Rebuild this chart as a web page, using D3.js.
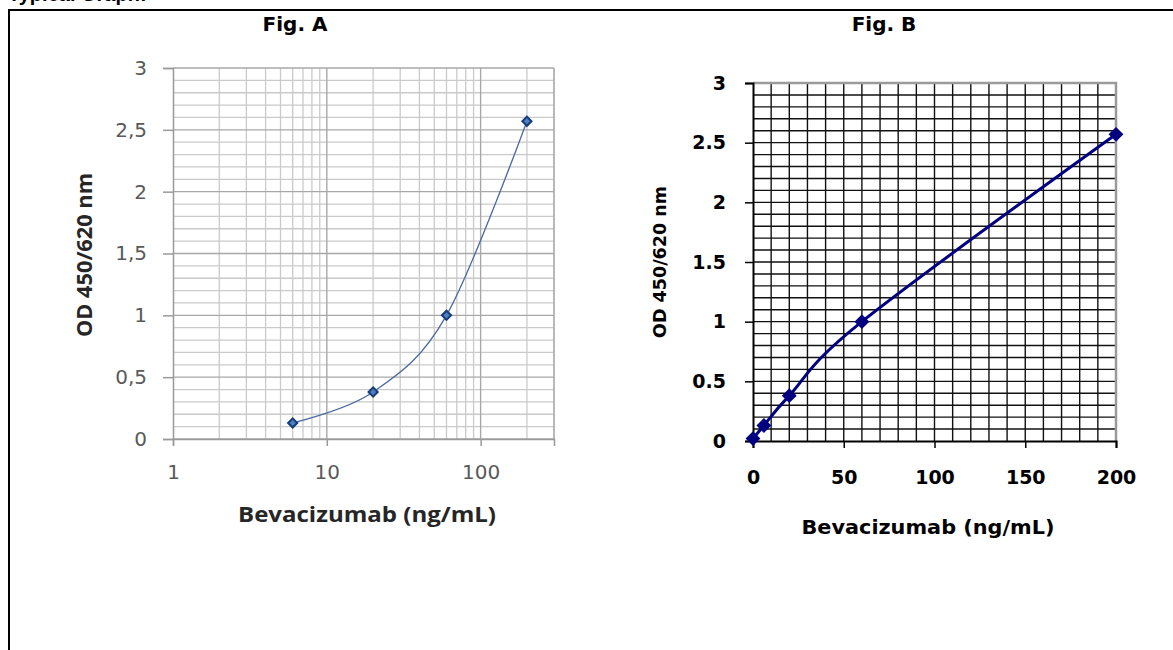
<!DOCTYPE html>
<html>
<head>
<meta charset="utf-8">
<script src="https://cdn.jsdelivr.net/npm/d3@7"></script>
<style>
  body { margin: 0; background: #fff; }
  svg { display: block; }
</style>
</head>
<body>
<script>
// data
var concA = [6, 20, 60, 200],
    odA = [0.13, 0.38, 1.0, 2.57];
var concB = [0, 6, 20, 60, 200],
    odB = [0.02, 0.13, 0.38, 1.0, 2.57];
var yTicks = [0, 0.5, 1, 1.5, 2, 2.5, 3],
    xTicksA = [1, 10, 100],
    xTicksB = [0, 50, 100, 150, 200];

var W = 1173, H = 650;

var svg = d3.select("body").append("svg")
    .attr("width", W)
    .attr("height", H);

// page frame + heading that is cut off at the top
svg.append("text")
    .attr("x", 8).attr("y", 1)
    .style("font", "bold 20px 'Liberation Sans', Arial, sans-serif")
    .text("Typical Graph:");
svg.append("path")
    .attr("d", "M9,660 V10 H1180")
    .attr("fill", "none").attr("stroke", "#000").attr("stroke-width", 2);

// rotated square marker
var diamond = function(size){ return d3.symbol().type(d3.symbolSquare).size(size)(); };

// ---------- Fig. A (log x) ----------
var xA = d3.scaleLog().domain([1, 300]).range([173, 554]),
    yA = d3.scaleLinear().domain([0, 3]).range([439, 68]);

var gA = svg.append("g");

var minorX = [];
[1, 10, 100].forEach(function(dec){
  for (var k = 2; k <= 9; k++) { if (k*dec <= 300) minorX.push(k*dec); }
});
var minorY = d3.range(0, 31).map(function(i){ return i/10; })
    .filter(function(v){ return Math.round(v*10) % 5 != 0; });

gA.selectAll(".vmin").data(minorX).enter().append("line")
    .attr("x1", xA).attr("x2", xA)
    .attr("y1", yA(0)).attr("y2", yA(3))
    .attr("stroke", "#cacaca").attr("stroke-width", 1.3);
gA.selectAll(".hmin").data(minorY).enter().append("line")
    .attr("x1", xA(1)).attr("x2", xA(300))
    .attr("y1", yA).attr("y2", yA)
    .attr("stroke", "#cacaca").attr("stroke-width", 1.3);
gA.selectAll(".vmaj").data([10, 100, 300]).enter().append("line")
    .attr("x1", xA).attr("x2", xA)
    .attr("y1", yA(0)).attr("y2", yA(3))
    .attr("stroke", "#a8a8a8").attr("stroke-width", 1.4);
gA.selectAll(".hmaj").data(yTicks).enter().append("line")
    .attr("x1", xA(1)).attr("x2", xA(300))
    .attr("y1", yA).attr("y2", yA)
    .attr("stroke", "#a8a8a8").attr("stroke-width", 1.4);

var axA_y = gA.append("g")
    .attr("transform", "translate(" + xA(1) + ",0)")
    .call(d3.axisLeft(yA).tickValues(yTicks).tickSize(10).tickPadding(16)
        .tickFormat(function(d){ return String(d).replace(".", ","); }));
var axA_x = gA.append("g")
    .attr("transform", "translate(0," + yA(0) + ")")
    .call(d3.axisBottom(xA).tickValues(xTicksA).tickSize(7).tickPadding(19)
        .tickFormat(d3.format("d")));
[axA_y, axA_x].forEach(function(ax){
  ax.select(".domain").attr("stroke", "#9a9a9a").attr("stroke-width", 1.5);
  ax.selectAll(".tick line").attr("stroke", "#9a9a9a").attr("stroke-width", 1.5);
  ax.selectAll(".tick text")
      .style("font", "20px 'DejaVu Sans', sans-serif")
      .attr("fill", "#595959");
});

var ptsA = concA.map(function(c, i){ return [xA(c), yA(odA[i])]; });
gA.append("path")
    .attr("d", d3.line().curve(d3.curveCatmullRom.alpha(0))(ptsA))
    .attr("fill", "none").attr("stroke", "#4a6aa0").attr("stroke-width", 1.3);
gA.selectAll(".mk").data(ptsA).enter().append("path")
    .attr("transform", function(d){ return "translate(" + d[0] + "," + d[1] + ") rotate(45)"; })
    .attr("d", diamond(42))
    .attr("fill", "#4f7fc0").attr("stroke", "#143c78").attr("stroke-width", 2);

gA.append("text")
    .attr("x", 295).attr("y", 31).attr("text-anchor", "middle")
    .style("font", "bold 20px 'DejaVu Sans', sans-serif")
    .text("Fig. A");
gA.append("text")
    .attr("x", 367).attr("y", 522).attr("text-anchor", "middle")
    .attr("textLength", 258).attr("lengthAdjust", "spacingAndGlyphs")
    .style("font", "bold 22px 'Open Sans', sans-serif")
    .attr("fill", "#262626")
    .text("Bevacizumab (ng/mL)");
gA.append("text")
    .attr("transform", "translate(92,255) rotate(-90)")
    .attr("text-anchor", "middle")
    .attr("textLength", 164).attr("lengthAdjust", "spacingAndGlyphs")
    .style("font", "bold 21px 'Open Sans', sans-serif")
    .attr("fill", "#262626")
    .text("OD 450/620 nm");

// ---------- Fig. B (linear x) ----------
var xB = d3.scaleLinear().domain([0, 200]).range([753, 1116]),
    yB = d3.scaleLinear().domain([0, 3]).range([441, 83]);

var gB = svg.append("g");

gB.selectAll(".vg").data(d3.range(10, 200, 10)).enter().append("line")
    .attr("x1", xB).attr("x2", xB)
    .attr("y1", yB(0)).attr("y2", yB(3))
    .attr("stroke", "#111").attr("stroke-width", 1.4);
gB.selectAll(".hg").data(d3.range(1, 30).map(function(i){ return i/10; })).enter().append("line")
    .attr("x1", xB(0)).attr("x2", xB(200))
    .attr("y1", yB).attr("y2", yB)
    .attr("stroke", "#111").attr("stroke-width", 1.4);
// top and right edge of plot in grey
gB.append("path")
    .attr("d", "M" + xB(0) + "," + yB(3) + " H" + xB(200) + " V" + yB(0))
    .attr("fill", "none").attr("stroke", "#9a9a9a").attr("stroke-width", 2.5);

var axB_y = gB.append("g")
    .attr("transform", "translate(" + xB(0) + ",0)")
    .call(d3.axisLeft(yB).tickValues(yTicks).tickSize(8).tickPadding(19)
        .tickFormat(function(d){ return String(d); }));
var axB_x = gB.append("g")
    .attr("transform", "translate(0," + yB(0) + ")")
    .call(d3.axisBottom(xB).tickValues(xTicksB).tickSize(7).tickPadding(23));
[axB_y, axB_x].forEach(function(ax){
  ax.select(".domain").attr("stroke", "#000").attr("stroke-width", 2);
  ax.selectAll(".tick line").attr("stroke", "#000").attr("stroke-width", 1.5);
  ax.selectAll(".tick text")
      .style("font", "bold 19px 'DejaVu Sans', sans-serif")
      .attr("fill", "#000");
});

var ptsB = concB.map(function(c, i){ return [xB(c), yB(odB[i])]; });
gB.append("path")
    .attr("d", d3.line().curve(d3.curveCatmullRom.alpha(0))(ptsB))
    .attr("fill", "none").attr("stroke", "#000080").attr("stroke-width", 3);
gB.selectAll(".mk").data(ptsB).enter().append("path")
    .attr("transform", function(d){ return "translate(" + d[0] + "," + d[1] + ") rotate(45)"; })
    .attr("d", diamond(110))
    .attr("fill", "#000080");

gB.append("text")
    .attr("x", 884).attr("y", 31).attr("text-anchor", "middle")
    .style("font", "bold 20px 'DejaVu Sans', sans-serif")
    .text("Fig. B");
gB.append("text")
    .attr("x", 928).attr("y", 534).attr("text-anchor", "middle")
    .attr("textLength", 253).attr("lengthAdjust", "spacingAndGlyphs")
    .style("font", "bold 19px 'DejaVu Sans', sans-serif")
    .text("Bevacizumab (ng/mL)");
gB.append("text")
    .attr("transform", "translate(666,262) rotate(-90)")
    .attr("text-anchor", "middle")
    .attr("textLength", 152).attr("lengthAdjust", "spacingAndGlyphs")
    .style("font", "bold 18px 'DejaVu Sans', sans-serif")
    .text("OD 450/620 nm");
</script>
</body>
</html>
